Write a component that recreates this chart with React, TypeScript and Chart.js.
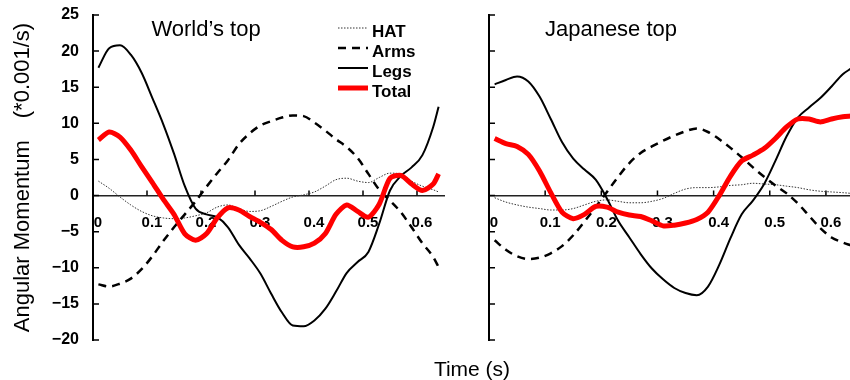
import React, { useEffect, useRef } from "react";
import { Chart, registerables } from "chart.js";
Chart.register(...registerables);

// ---------- data ----------
const timeWorld = [0.01, 0.03, 0.05, 0.07, 0.09, 0.11, 0.13, 0.15, 0.17, 0.19, 0.21, 0.23, 0.25, 0.27, 0.29, 0.31, 0.33, 0.35, 0.37, 0.39, 0.41, 0.43, 0.45, 0.47, 0.49, 0.51, 0.53, 0.55, 0.57, 0.59, 0.61, 0.63, 0.64];
const hatWorld = [2.0, 1.0, -0.2, -1.3, -2.2, -2.8, -3.1, -3.2, -3.1, -2.8, -2.4, -1.6, -1.3, -1.8, -2.2, -2.1, -1.5, -0.8, -0.2, 0.1, 0.5, 1.3, 2.2, 2.4, 2.0, 1.8, 2.5, 3.1, 3.0, 2.0, 1.3, 0.8, 0.5];
const armsWorld = [-12.3, -12.6, -12.2, -11.5, -10.2, -8.4, -6.3, -4.4, -2.6, -0.8, 1.2, 3.1, 4.9, 7.1, 8.6, 9.7, 10.3, 10.8, 11.1, 11.0, 10.1, 9.0, 7.8, 6.7, 5.2, 3.0, 0.8, -0.7, -2.3, -4.4, -6.6, -8.5, -9.9];
const legsWorld = [17.7, 20.4, 20.8, 19.5, 17.0, 13.5, 9.9, 5.8, 1.3, -1.8, -2.6, -3.0, -4.4, -6.8, -8.7, -10.8, -13.6, -16.2, -18.0, -18.1, -17.3, -15.7, -13.3, -10.7, -9.2, -7.8, -3.9, 0.7, 2.7, 3.9, 5.6, 9.5, 12.3];
const totalWorld = [7.7, 8.8, 8.1, 6.3, 4.0, 1.8, -0.5, -2.6, -5.3, -6.2, -5.3, -3.1, -1.7, -2.0, -2.9, -3.7, -4.7, -6.2, -7.1, -7.1, -6.6, -5.3, -2.6, -1.3, -2.2, -3.0, -1.2, 2.4, 2.8, 1.6, 0.7, 1.6, 3.0];

const timeJapan = [0.01, 0.03, 0.05, 0.07, 0.09, 0.11, 0.13, 0.15, 0.17, 0.19, 0.21, 0.23, 0.25, 0.27, 0.29, 0.31, 0.33, 0.35, 0.37, 0.39, 0.41, 0.43, 0.45, 0.47, 0.49, 0.51, 0.53, 0.55, 0.57, 0.59, 0.61, 0.63, 0.645];
const hatJapan = [-0.3, -0.9, -1.3, -1.6, -1.8, -2.0, -2.0, -1.8, -1.3, -0.8, -0.6, -0.8, -1.0, -1.0, -0.8, -0.4, 0.3, 0.9, 1.1, 1.1, 1.2, 1.4, 1.5, 1.7, 1.6, 1.5, 1.3, 1.1, 0.8, 0.6, 0.5, 0.4, 0.3];
const armsJapan = [-6.2, -7.5, -8.4, -8.8, -8.6, -8.0, -7.0, -5.5, -3.6, -1.6, 0.5, 2.6, 4.5, 5.9, 6.8, 7.6, 8.3, 8.9, 9.3, 8.8, 7.8, 6.6, 5.3, 3.9, 2.6, 1.4, 0.3, -1.1, -2.8, -4.5, -5.8, -6.5, -6.9];
const legsJapan = [15.4, 16.0, 16.5, 15.8, 13.7, 10.6, 7.4, 5.1, 3.6, 2.2, -0.4, -3.5, -5.8, -8.1, -10.1, -11.6, -12.8, -13.5, -13.8, -12.6, -9.6, -5.9, -2.6, -0.7, 1.6, 4.8, 8.2, 10.8, 12.2, 13.5, 15.1, 16.8, 17.6];
const totalJapan = [7.9, 7.2, 6.8, 5.7, 3.4, 0.4, -2.3, -3.2, -2.6, -1.5, -1.6, -2.3, -2.7, -2.9, -3.5, -4.2, -4.1, -3.8, -3.3, -2.3, 0.0, 2.7, 4.8, 5.6, 6.5, 7.9, 9.5, 10.6, 10.6, 10.2, 10.6, 10.9, 11.0];

const seriesNames = ["HAT", "Arms", "Legs", "Total"];
const xTickValues = [0, 0.1, 0.2, 0.3, 0.4, 0.5, 0.6];
const yTickValues = [-20, -15, -10, -5, 0, 5, 10, 15, 20, 25];
const panelTitles = ["World\u2019s top", "Japanese top"];
const yAxisTitle = "Angular Momentum\u3000(*0.001/s)";
const xAxisTitle = "Time (s)";

const FONT = "'Liberation Sans', Arial, sans-serif";

const seriesStyles = [
  { borderColor: "#333", borderWidth: 1, borderDash: [1.5, 1.5], order: 3, tension: 0.4 },
  { borderColor: "#000", borderWidth: 2.5, borderDash: [8, 6], order: 2, tension: 0.4 },
  { borderColor: "#000", borderWidth: 2, borderDash: [], order: 1, tension: 0.4 },
  { borderColor: "#ff0000", borderWidth: 5, borderDash: [], order: 0, tension: 0.25 },
];

const toPoints = (t: number[], v: number[]) => t.map((x, i) => ({ x, y: v[i] }));

const tickMarksPlugin = {
  id: "tickMarks",
  beforeDatasetsDraw(chart: any) {
    const { ctx, chartArea, scales } = chart;
    const xs = scales.x, ys = scales.y;
    const y0 = ys.getPixelForValue(0);
    ctx.save();
    ctx.strokeStyle = "#000";
    ctx.lineWidth = 1.5;
    ctx.beginPath();
    ys.ticks.forEach((tk: any) => {
      const py = ys.getPixelForValue(tk.value);
      ctx.moveTo(chartArea.left, py);
      ctx.lineTo(chartArea.left + 6, py);
    });
    xs.ticks.forEach((tk: any) => {
      const px = xs.getPixelForValue(tk.value);
      ctx.moveTo(px, y0);
      ctx.lineTo(px, y0 - 5);
    });
    ctx.stroke();
    ctx.restore();
  },
};

const panelTextPlugin = {
  id: "panelText",
  afterDraw(chart: any, _args: any, opts: any) {
    const { ctx, chartArea } = chart;
    ctx.save();
    ctx.fillStyle = "#000";
    ctx.font = `22px ${FONT}`;
    ctx.textAlign = "center";
    ctx.textBaseline = "middle";
    ctx.fillText(opts.title, chartArea.left + opts.titleDx, chartArea.top + 15);
    if (opts.legend) {
      const lx = chartArea.left + 245;
      chart.data.datasets.forEach((ds: any, i: number) => {
        const ly = chartArea.top + 13 + i * 20;
        ctx.beginPath();
        ctx.strokeStyle = ds.borderColor;
        ctx.lineWidth = ds.borderWidth;
        ctx.setLineDash(ds.borderDash || []);
        ctx.moveTo(lx, ly);
        ctx.lineTo(lx + 30, ly);
        ctx.stroke();
        ctx.setLineDash([]);
        ctx.font = `bold 17px ${FONT}`;
        ctx.textAlign = "left";
        ctx.fillText(ds.label, lx + 34, ly + 4);
      });
    }
    ctx.restore();
  },
};

function makeConfig(time: number[], series: number[][], isLeft: boolean) {
  return {
    type: "line",
    data: {
      datasets: series.map((vals, i) => ({
        label: seriesNames[i],
        data: toPoints(time, vals),
        pointRadius: 0,
        fill: false,
        ...seriesStyles[i],
        cubicInterpolationMode: i === 3 ? "default" : "monotone",
      })),
    },
    options: {
      responsive: false,
      animation: false,
      layout: { padding: { left: 0, top: 15, right: isLeft ? 6 : 2, bottom: 40 } },
      plugins: {
        legend: { display: false },
        tooltip: { enabled: false },
        panelText: { title: isLeft ? panelTitles[0] : panelTitles[1], titleDx: isLeft ? 113 : 122, legend: isLeft },
      },
      scales: {
        x: {
          type: "linear",
          position: { y: 0 },
          min: 0,
          max: 0.65,
          afterBuildTicks: (s: any) => { s.ticks = xTickValues.map((v) => ({ value: v })); },
          afterFit: (s: any) => { s.paddingLeft = 0; s.paddingRight = 0; },
          grid: { drawOnChartArea: false, drawTicks: false },
          border: { display: true, color: "#222", width: 1.5 },
          ticks: {
            autoSkip: false,
            maxRotation: 0,
            padding: 18,
            labelOffset: 5,
            color: "#000",
            font: { family: FONT, size: 15, weight: "bold" },
            callback: (v: any) => String(Math.round(Number(v) * 10) / 10),
          },
        },
        y: {
          type: "linear",
          position: "left",
          min: -20,
          max: 25,
          afterBuildTicks: (s: any) => { s.ticks = yTickValues.map((v) => ({ value: v })); },
          afterFit: (s: any) => { s.width = isLeft ? 93 : 39; s.paddingTop = 0; s.paddingBottom = 0; },
          grid: { drawOnChartArea: false, drawTicks: false },
          border: { display: true, color: "#000", width: 2 },
          title: {
            display: isLeft,
            text: yAxisTitle,
            color: "#000",
            font: { family: FONT, size: 22 },
            padding: { top: 10, bottom: 0 },
          },
          ticks: {
            display: isLeft,
            padding: 14,
            color: "#000",
            font: { family: FONT, size: 16, weight: "bold" },
            callback: (v: any) => (Number(v) < 0 ? "\u2212" + Math.abs(Number(v)) : String(v)),
          },
        },
      },
    },
    plugins: [tickMarksPlugin, panelTextPlugin],
  };
}

function Panel({ time, series, isLeft, left, width }: any) {
  const ref = useRef<HTMLCanvasElement>(null);
  useEffect(() => {
    if (!ref.current) return;
    const chart = new Chart(ref.current, makeConfig(time, series, isLeft) as any);
    return () => chart.destroy();
  }, []);
  return (
    <canvas
      ref={ref}
      width={width}
      height={380}
      style={{ position: "absolute", left, top: 0, width, height: 380 }}
    />
  );
}

export default function App() {
  return (
    <div style={{ position: "fixed", left: 0, top: 0, width: 850, height: 380, overflow: "hidden", background: "#fff" }}>
      <Panel time={timeWorld} series={[hatWorld, armsWorld, legsWorld, totalWorld]} isLeft={true} left={0} width={450} />
      <Panel time={timeJapan} series={[hatJapan, armsJapan, legsJapan, totalJapan]} isLeft={false} left={450} width={406} />
      <div
        style={{
          position: "absolute",
          left: 372,
          width: 200,
          top: 357,
          textAlign: "center",
          fontFamily: FONT,
          fontSize: 21,
          lineHeight: "24px",
          color: "#000",
        }}
      >
        {xAxisTitle}
      </div>
    </div>
  );
}
